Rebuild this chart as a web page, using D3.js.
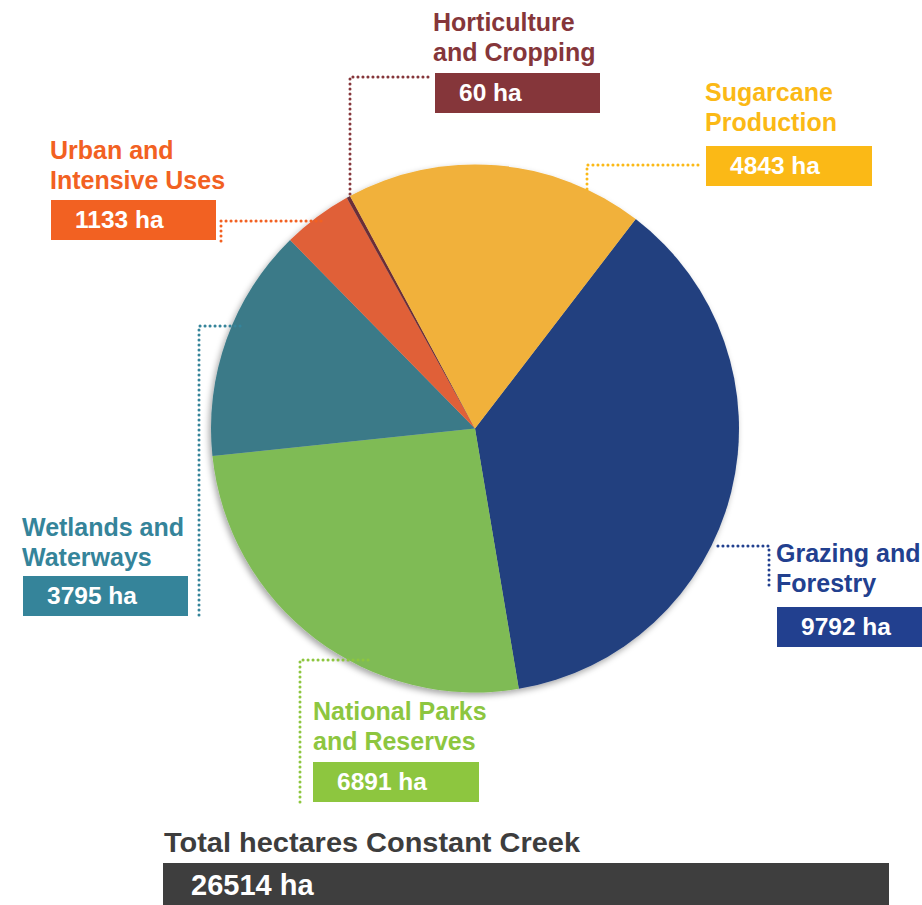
<!DOCTYPE html>
<html>
<head>
<meta charset="utf-8">
<script src="https://cdn.jsdelivr.net/npm/d3@7"></script>
<style>
  html, body { margin: 0; padding: 0; background: #ffffff; }
  svg { display: block; }
  text { font-family: Arial, "Liberation Sans", Helvetica, sans-serif; font-weight: bold; }
</style>
</head>
<body>
<svg id="chart" width="922" height="905"></svg>
<script>
// ---- data ----
const categories = ["Grazing and Forestry", "National Parks and Reserves", "Wetlands and Waterways",
                    "Urban and Intensive Uses", "Horticulture and Cropping", "Sugarcane Production"];
const labelLines = [["Grazing and", "Forestry"], ["National Parks", "and Reserves"], ["Wetlands and", "Waterways"],
                    ["Urban and", "Intensive Uses"], ["Horticulture", "and Cropping"], ["Sugarcane", "Production"]];
const values = [9792, 6891, 3795, 1133, 60, 4843];
const unit = "ha";
const totalTitle = "Total hectares Constant Creek";

// ---- styles ----
const sliceColors = ["#22407f", "#7fbb55", "#3b7a88", "#e06038", "#6b2e38", "#f1b13b"];
const labelColors = ["#22408f", "#8dc63f", "#35849a", "#f26122", "#85363a", "#fbb916"];

const svg = d3.select("#chart");
const cx = 475, cy = 428.5, R = 264;

// drop shadow
const defs = svg.append("defs");
const f = defs.append("filter").attr("id", "shadow").attr("x", "-10%").attr("y", "-10%").attr("width", "120%").attr("height", "120%");
f.append("feDropShadow").attr("dx", -2).attr("dy", 3).attr("stdDeviation", 3).attr("flood-color", "#000").attr("flood-opacity", 0.35);

const start = 37.5 * Math.PI / 180;
const pie = d3.pie().sort(null).value(d => d).startAngle(start).endAngle(start + 2 * Math.PI);
const arc = d3.arc().innerRadius(0).outerRadius(R);
const arcs = pie(values);

const g = svg.append("g").attr("transform", `translate(${cx},${cy})`).attr("filter", "url(#shadow)");
g.selectAll("path").data(arcs).enter().append("path")
  .attr("d", arc)
  .attr("fill", (d, i) => sliceColors[i]);

// ---- label layout (box top-left, label column, first label baseline) ----
const layout = [
  { x: 777, y: 607, w: 150, tx: 776, ty: 562 },   // Grazing
  { x: 313, y: 762, w: 166, tx: 313, ty: 720 },   // National Parks
  { x: 23,  y: 576, w: 165, tx: 22,  ty: 536 },   // Wetlands
  { x: 51,  y: 200, w: 165, tx: 50,  ty: 159 },   // Urban
  { x: 435, y: 73,  w: 165, tx: 433, ty: 31 },    // Horticulture
  { x: 706, y: 146, w: 166, tx: 705, ty: 101 }    // Sugarcane
];
const boxH = 40;

// pie-edge helpers
const edgeX = (y, side) => cx + side * Math.sqrt(R * R - (y - cy) * (y - cy));
const edgeY = (x, side) => cy + side * Math.sqrt(R * R - (x - cx) * (x - cx));

// leader polylines (computed from label anchors and the pie edge)
const leaders = [
  [[769, layout[0].y - 22], [769, 546], [edgeX(546, 1) + 2, 546]],
  [[300, layout[1].y + 40], [300, 660], [edgeX(660, -1) + 24, 660]],
  [[199, layout[2].y + 39], [199, 326], [edgeX(326, -1) + 10, 326]],
  [[221, layout[3].y + 41], [221, 221], [edgeX(221, -1) + 13, 221]],
  [[layout[4].x - 7, 77], [350, 77], [350, edgeY(350, -1) + 1]],
  [[layout[5].x - 8, 165], [587, 165], [587, edgeY(587, -1) + 2]]
];

const line = d3.line();
svg.append("g").selectAll("path").data(leaders).enter().append("path")
  .attr("d", d => line(d))
  .attr("fill", "none")
  .attr("stroke", (d, i) => labelColors[i])
  .attr("stroke-width", 3)
  .attr("stroke-linecap", "round")
  .attr("stroke-dasharray", "0.1 4.9");

// labels
const lg = svg.append("g");
layout.forEach((L, i) => {
  lg.append("rect").attr("x", L.x).attr("y", L.y).attr("width", L.w).attr("height", boxH)
    .attr("fill", labelColors[i]);
  lg.append("text").attr("x", L.x + 24).attr("y", L.y + 28)
    .attr("font-size", 24.5).attr("fill", "#fff").text(values[i] + " " + unit);
  labelLines[i].forEach((t, j) => {
    lg.append("text").attr("x", L.tx).attr("y", L.ty + j * 30)
      .attr("font-size", 25).attr("fill", labelColors[i]).text(t);
  });
});

// total
const total = d3.sum(values);
svg.append("text").attr("x", 164).attr("y", 852).attr("font-size", 27).attr("fill", "#3d3d3d")
  .attr("textLength", 416).attr("lengthAdjust", "spacingAndGlyphs").text(totalTitle);
svg.append("rect").attr("x", 163).attr("y", 863).attr("width", 726).attr("height", 44).attr("fill", "#3e3e3e");
svg.append("text").attr("x", 191).attr("y", 895).attr("font-size", 29).attr("fill", "#fff")
  .text(total + " " + unit);
</script>
</body>
</html>
